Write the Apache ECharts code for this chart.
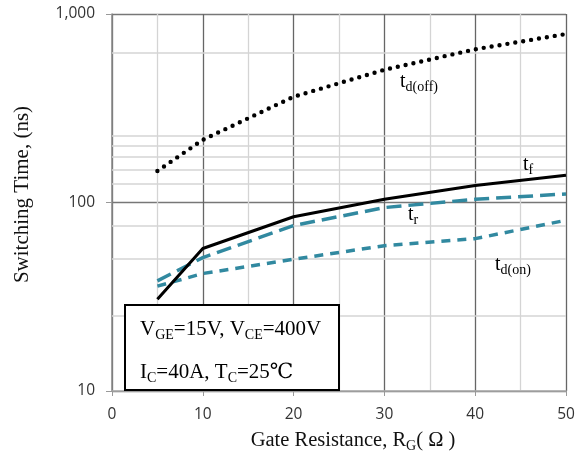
<!DOCTYPE html>
<html>
<head>
<meta charset="utf-8">
<script src="https://cdn.jsdelivr.net/npm/echarts@6/dist/echarts.min.js"></script>
<style>html,body{margin:0;padding:0;background:#fff;}#c{width:581px;height:458px;}</style>
</head>
<body>
<div id="c"></div>
<script>
var rg = [5, 10, 20, 30, 40, 50];
var tdOff = [147, 215, 364, 506, 650, 783];
var tf = [30.7, 57, 84, 104, 123, 139.5];
var tr = [38.4, 51, 75.5, 94, 104, 111];
var tdOn = [36, 42, 50, 59, 64.3, 80.5];
var yMinorGrid = [25, 50, 75, 125, 150, 175, 200, 225, 625];
var xTicks = [0, 10, 20, 30, 40, 50];
var yTicks = [10, 100, 1000];

function pairs(v){ return rg.map(function(x,i){ return [x, v[i]]; }); }
var teal = '#3189a0';
var serif = '"Liberation Serif","DejaVu Serif",serif';
var sans = '"Open Sans","Liberation Sans",sans-serif';
function sub(t, x, y, size){
  return {type: 'text', x: x, y: y, z: 101, style: {
    text: t, font: size + 'px ' + serif, fill: '#000',
    rich: {s: {fontFamily: serif, fontSize: Math.round(size*0.68), fill: '#000', padding: [Math.round(size*0.5),0,0,0]}}}};
}

var chart = echarts.init(document.getElementById('c'));
chart.setOption({
  animation: false,
  grid: {left: 112, right: 15, top: 14, bottom: 66},
  xAxis: {
    type: 'value', min: xTicks[0], max: xTicks[xTicks.length-1], interval: 10,
    name: 'Gate Resistance, R{s|G}( Ω )', nameLocation: 'middle', nameGap: 38,
    nameTextStyle: {fontFamily: serif, fontSize: 20.5, color: '#111', padding: [0,0,0,28],
      rich: {s: {fontFamily: serif, fontSize: 14, color: '#111', padding: [10,0,0,0]}}},
    axisLine: {show: true, lineStyle: {color: '#aaa', width: 1.5}},
    axisTick: {show: true, length: 5, lineStyle: {color: '#999'}},
    axisLabel: {fontFamily: sans, fontSize: 15.5, color: '#333', margin: 16},
    splitLine: {show: true, lineStyle: {color: '#666', width: 1.3}},
    minorTick: {show: false, splitNumber: 2},
    minorSplitLine: {show: true, lineStyle: {color: '#d4d4d4', width: 1.3}}
  },
  yAxis: {
    type: 'log', logBase: 10, min: yTicks[0], max: yTicks[yTicks.length-1],
    name: 'Switching Time, (ns)', nameLocation: 'middle', nameGap: 79,
    nameTextStyle: {fontFamily: serif, fontSize: 21, color: '#111', padding: [0,0,0,16]},
    axisLine: {show: true, lineStyle: {color: '#888', width: 1.5}},
    axisTick: {show: true, length: 6, lineStyle: {color: '#999'}},
    axisLabel: {fontFamily: sans, fontSize: 15.5, color: '#333', margin: 17,
      formatter: function(v){ return v.toLocaleString('en-US'); }},
    splitLine: {show: true, lineStyle: {color: '#777', width: 1.3}}
  },
  series: [
    {type: 'line', data: pairs(tdOff), symbol: 'none', z: 5,
      lineStyle: {color: '#000', width: 4.4, type: [0, 8], cap: 'round'},
      markLine: {silent: true, symbol: 'none', label: {show: false}, z: 1,
        lineStyle: {color: '#d4d4d4', width: 1.5, type: 'solid'},
        data: yMinorGrid.map(function(v){ return {yAxis: v}; })}},
    {type: 'line', data: pairs(tf), symbol: 'none', z: 6,
      lineStyle: {color: '#000', width: 3}},
    {type: 'line', data: pairs(tr), symbol: 'none', z: 4,
      lineStyle: {color: teal, width: 3.5, type: [15, 7]}},
    {type: 'line', data: pairs(tdOn), symbol: 'none', z: 4,
      lineStyle: {color: teal, width: 3.5, type: [9, 7]}}
  ],
  graphic: [
    {type: 'rect', shape: {x: 125, y: 305, width: 214, height: 85}, z: 100,
      style: {fill: '#fff', stroke: '#000', lineWidth: 2}},
    sub('V{s|GE}=15V, V{s|CE}=400V', 140, 317, 21),
    sub('I{s|C}=40A, T{s|C}=25℃', 140, 360, 21),
    sub('t{s|d(off)}', 400, 70, 20),
    sub('t{s|f}', 523, 153, 20),
    sub('t{s|r}', 408, 203, 20),
    sub('t{s|d(on)}', 495, 253, 20)
  ]
});
</script>
</body>
</html>
